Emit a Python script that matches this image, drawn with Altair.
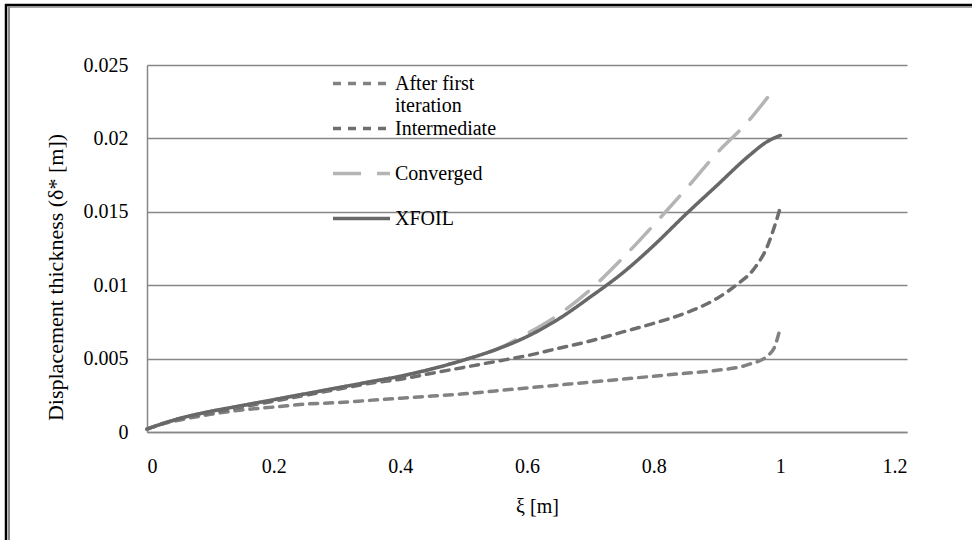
import altair as alt
import pandas as pd

# Series names (legend order), colours and dash patterns
SERIES = ["After first iteration", "Intermediate", "Converged", "XFOIL"]
COLORS = ["#828282", "#6e6e6e", "#b4b4b4", "#686868"]
DASHES = [[8, 7], [8, 7], [28, 16], [1, 0]]

# Arc-length coordinate xi [m] and displacement thickness delta* [m]
xi_first = [0, 0.02, 0.05, 0.1, 0.15, 0.2, 0.25, 0.3, 0.35, 0.4, 0.45, 0.5, 0.55,
            0.6, 0.65, 0.7, 0.75, 0.8, 0.85, 0.9, 0.95, 0.98, 0.99, 1.0]
ds_first = [0.0002, 0.0005, 0.0008, 0.0012, 0.0015, 0.0017, 0.0019, 0.0020, 0.00215,
            0.0023, 0.00245, 0.0026, 0.0028, 0.0030, 0.0032, 0.0034, 0.0036, 0.0038,
            0.0040, 0.0042, 0.0046, 0.0052, 0.0057, 0.0071]

xi_inter = [0, 0.02, 0.05, 0.1, 0.15, 0.2, 0.25, 0.3, 0.35, 0.4, 0.45, 0.5, 0.55,
            0.6, 0.65, 0.7, 0.75, 0.8, 0.85, 0.9, 0.93, 0.96, 0.98, 0.99, 1.0]
ds_inter = [0.0002, 0.0005, 0.0009, 0.0013, 0.0017, 0.0021, 0.0025, 0.0029, 0.0033,
            0.0036, 0.0040, 0.0044, 0.0048, 0.0052, 0.0057, 0.0062, 0.0068, 0.0074,
            0.0081, 0.0091, 0.0100, 0.0112, 0.0127, 0.0139, 0.0153]

xi_conv = [0, 0.02, 0.05, 0.1, 0.15, 0.2, 0.25, 0.3, 0.35, 0.4, 0.45, 0.5, 0.55,
           0.6, 0.65, 0.7, 0.75, 0.8, 0.85, 0.9, 0.95, 0.98]
ds_conv = [0.0002, 0.0005, 0.0009, 0.0014, 0.0018, 0.0022, 0.0026, 0.0030, 0.0034,
           0.0038, 0.0043, 0.0049, 0.0056, 0.0067, 0.0080, 0.0097, 0.0118, 0.0141,
           0.0165, 0.0190, 0.0212, 0.0228]

xi_xfoil = [0, 0.02, 0.05, 0.1, 0.15, 0.2, 0.25, 0.3, 0.35, 0.4, 0.45, 0.5, 0.55,
            0.6, 0.65, 0.7, 0.75, 0.8, 0.85, 0.9, 0.95, 0.98, 1.0]
ds_xfoil = [0.0002, 0.0005, 0.0009, 0.0014, 0.0018, 0.0022, 0.0026, 0.0030, 0.0034,
            0.0038, 0.0043, 0.0049, 0.0056, 0.0065, 0.0077, 0.0092, 0.0108, 0.0127,
            0.0148, 0.0168, 0.0188, 0.0198, 0.0202]

X_TICKS = [0, 0.2, 0.4, 0.6, 0.8, 1.0, 1.2]
Y_TICKS = [0, 0.005, 0.01, 0.015, 0.02, 0.025]

rows = []
for name, xs, ys in zip(SERIES, [xi_first, xi_inter, xi_conv, xi_xfoil],
                        [ds_first, ds_inter, ds_conv, ds_xfoil]):
    for i, (x, y) in enumerate(zip(xs, ys)):
        rows.append({"series": name, "xi": x, "dstar": y, "order": i})
df = pd.DataFrame(rows)

SERIF = "Liberation Serif"
GRID = "#878787"

# Legend swatch: a horizontal line three times the nominal symbol width,
# so the long sample line does not inflate the entry height.
legend = alt.Legend(
    title=None,
    orient="none",
    legendX=203,
    legendY=7,
    padding=0,
    symbolType="M-3,0H3",
    symbolSize=19 * 19,
    symbolStrokeWidth=3.5,
    labelFont=SERIF,
    labelFontSize=20,
    labelColor="black",
    labelOffset=22,
    labelLimit=300,
    labelBaseline="middle",
    rowPadding=1,
    labelExpr="datum.label == 'After first iteration' ? ['After first', 'iteration'] : [datum.label, '']",
)

lines = alt.Chart(df).mark_line(
    strokeWidth=3.5, interpolate="monotone", strokeCap="round"
).encode(
    x=alt.X("xi:Q",
            scale=alt.Scale(domain=[0, 1.2], nice=False),
            axis=alt.Axis(values=X_TICKS, format="~g", title="ξ [m]",
                          grid=False, ticks=False, tickSize=0,
                          labelPadding=40, labelBaseline="alphabetic",
                          titleX=390, titleY=80, titleBaseline="alphabetic")),
    y=alt.Y("dstar:Q",
            scale=alt.Scale(domain=[0, 0.025], nice=False),
            axis=alt.Axis(values=Y_TICKS, format="~g",
                          title="Displacement thickness (δ* [m])",
                          grid=True, ticks=False, tickSize=0, labelPadding=19,
                          titleAngle=270, titleX=-85, titleY=212,
                          titleAlign="center", titleBaseline="alphabetic")),
    color=alt.Color("series:N", scale=alt.Scale(domain=SERIES, range=COLORS), legend=legend),
    strokeDash=alt.StrokeDash("series:N", scale=alt.Scale(domain=SERIES, range=DASHES), legend=legend),
    order="order:Q",
)

# Double frame rules along the left and top edges of the figure
frame_src = alt.Data(values=[{}])
frame = alt.layer(
    alt.Chart(frame_src).mark_rule(color="black", strokeWidth=2.5).encode(
        x=alt.value(-141), y=alt.value(-61), y2=alt.value(481)),
    alt.Chart(frame_src).mark_rule(color="#8a8a8a", strokeWidth=2).encode(
        x=alt.value(-138), y=alt.value(-58), y2=alt.value(481)),
    alt.Chart(frame_src).mark_rule(color="black", strokeWidth=2.5).encode(
        x=alt.value(-142), x2=alt.value(825), y=alt.value(-60)),
    alt.Chart(frame_src).mark_rule(color="#8a8a8a", strokeWidth=1.5).encode(
        x=alt.value(-139), x2=alt.value(825), y=alt.value(-58)),
)

chart = alt.layer(lines, frame).properties(
    width=760,
    height=367,
    padding={"left": 147, "top": 65, "right": 65, "bottom": 108},
    autosize=alt.AutoSizeParams(type="none"),
).configure_view(
    stroke=None
).configure_axis(
    labelFont=SERIF,
    labelFontSize=20,
    labelColor="black",
    titleFont=SERIF,
    titleFontWeight="normal",
    titleColor="black",
    domainColor=GRID,
    domainWidth=1.5,
    gridColor=GRID,
    gridWidth=1.5,
).configure_axisY(
    titleFontSize=22,
).configure_axisX(
    titleFontSize=20,
)

chart.save("out.html", embed_options={"renderer": "svg", "actions": False})
